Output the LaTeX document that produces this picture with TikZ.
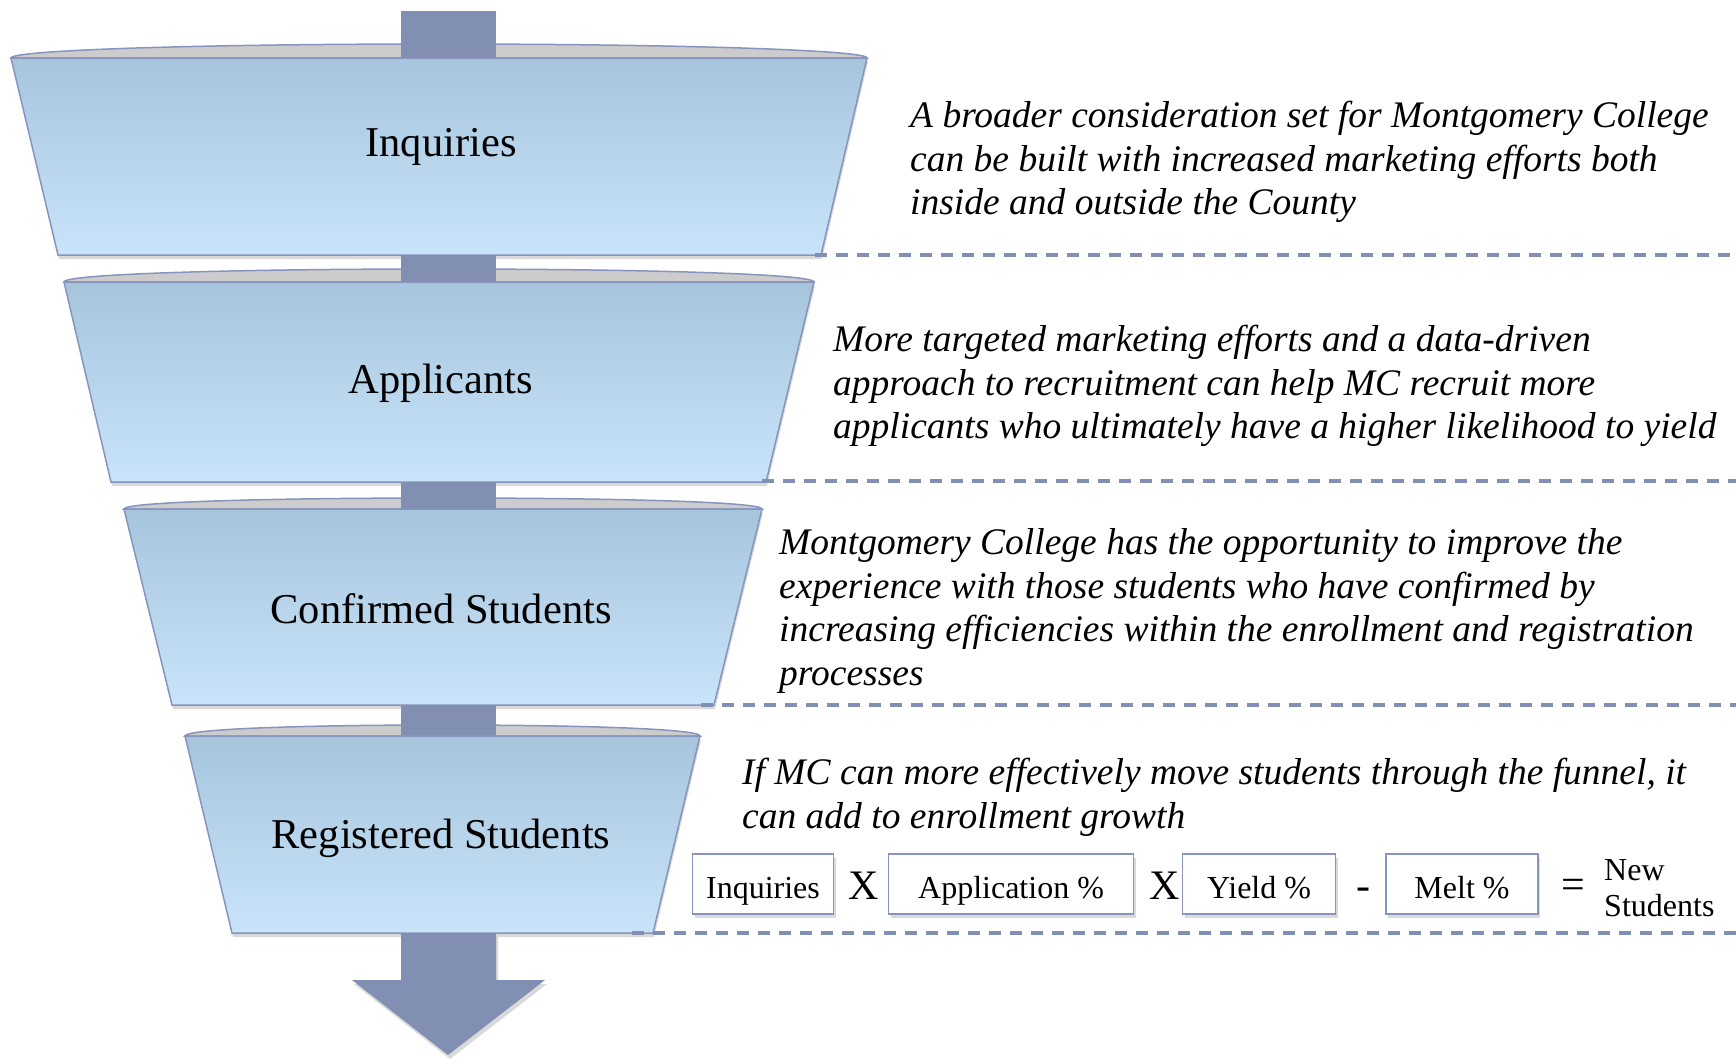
\documentclass[tikz,border=0pt]{standalone}
\usepackage{fontspec}
\setmainfont{Liberation Serif}
\usetikzlibrary{shadows}
\definecolor{stemblue}{RGB}{129,144,178}
\definecolor{rimgray}{RGB}{204,204,204}
\definecolor{edgeblue}{RGB}{135,149,190}
\definecolor{topblue}{RGB}{166,197,221}
\definecolor{botblue}{RGB}{201,228,250}
\tikzset{
  >=latex,
  rim/.style={fill=rimgray,draw=edgeblue,line width=1.5pt},
  stem/.style={fill=stemblue},
  cup/.style={top color=topblue,bottom color=botblue,draw=edgeblue,line width=1.5pt,
    drop shadow={opacity=.3,shadow xshift=1pt,shadow yshift=-4pt}},
  cuplabel/.style={anchor=base,font=\fontsize{42.5}{50}\selectfont},
  note/.style={anchor=west,align=left,inner sep=0pt,font=\fontsize{37.5}{43.7}\selectfont\itshape},
  term/.style={draw=edgeblue,fill=white,line width=1.5pt,minimum height=60pt,
    text height=28pt,text depth=0pt,font=\fontsize{32}{38}\selectfont,
    drop shadow={opacity=.3,shadow xshift=2pt,shadow yshift=-4pt}},
  op/.style={font=\fontsize{42}{42}\selectfont,inner sep=0pt},
  sep/.style={draw=stemblue,line width=4.6pt,dash pattern=on 12pt off 9pt}
}
\begin{document}
\begin{tikzpicture}[x=1pt,y=-1pt]
\useasboundingbox (0,0) rectangle (1736,1061);
% inquiries
\draw[rim] (11,58) .. controls (11,50) and (203,44) .. (439,44) .. controls (675,44) and (867,50) .. (867,58) -- cycle;
\fill[stem] (401,11) rectangle (496,62);
\draw[cup] (11,58) -- (867,58) -- (821,255) -- (58,255) -- cycle;
\node[cuplabel] (inq) at (441,156) {Inquiries};
% applicants
\draw[rim] (64,282) .. controls (64,274) and (233,269) .. (439,269) .. controls (645,269) and (814,274) .. (814,282) -- cycle;
\fill[stem] (401,255) rectangle (496,286);
\draw[cup] (64,282) -- (814,282) -- (766,482) -- (111,482) -- cycle;
\node[cuplabel] (app) at (441,393) {Applicants};
% confirmed students
\draw[rim] (124,509) .. controls (124,502) and (268,498) .. (443,498) .. controls (618,498) and (762,502) .. (762,509) -- cycle;
\fill[stem] (401,482) rectangle (496,513);
\draw[cup] (124,509) -- (762,509) -- (714,705) -- (172,705) -- cycle;
\node[cuplabel] (conf) at (441,623) {Confirmed Students};
% registered students
\draw[rim] (185,736) .. controls (185,729) and (301,725) .. (442,725) .. controls (584,725) and (700,729) .. (700,736) -- cycle;
\fill[stem] (401,705) rectangle (496,740);
\draw[cup] (185,736) -- (700,736) -- (653,933) -- (232,933) -- cycle;
\node[cuplabel] (reg) at (441,848) {Registered Students};
% arrow out of the funnel
\fill[stem,drop shadow={opacity=.3,shadow xshift=2pt,shadow yshift=-4pt}]
  (401,933) -- (496,933) -- (496,980) -- (545,980) -- (448,1055) -- (352,980) -- (401,980) -- cycle;

% notes
\node[note] (n1) at (910,162) {A broader consideration set for Montgomery College\\
  can be built with increased marketing efforts both\\ inside and outside the County};
\node[note] (n2) at (833,386) {More targeted marketing efforts and a data-driven\\
  approach to recruitment can help MC recruit more\\
  applicants who ultimately have a higher likelihood to yield};
\node[note] (n3) at (779,611) {Montgomery College has the opportunity to improve the\\
  experience with those students who have confirmed by\\
  increasing efficiencies within the enrollment and registration\\ processes};
\node[note] (n4) at (742,797) {If MC can more effectively move students through the funnel, it\\
  can add to enrollment growth};

% formula
\node[term,minimum width=141pt] (t1) at (763,884) {Inquiries};
\node[op] (x1) at (864,886) {X};
\node[term,minimum width=245pt] (t2) at (1011,884) {Application \%};
\node[op] (x2) at (1165,886) {X};
\node[term,minimum width=153pt] (t3) at (1259,884) {Yield \%};
\node[op] (minus) at (1363,894) {-};
\node[term,minimum width=152pt] (t4) at (1462,884) {Melt \%};
\node[op] (eq) at (1573,889) {=};
\node[anchor=west,align=left,inner sep=0pt,font=\fontsize{32}{36.5}\selectfont] (newst) at (1604,888) {New\\Students};

% separators
\coordinate (s1) at (815,255); \coordinate (e1) at (1736,255);
\coordinate (s2) at (762,481); \coordinate (e2) at (1736,481);
\coordinate (s3) at (701,705); \coordinate (e3) at (1736,705);
\coordinate (s4) at (632,933); \coordinate (e4) at (1736,933);
\draw[sep] (s1) -- (e1);
\draw[sep] (s2) -- (e2);
\draw[sep] (s3) -- (e3);
\draw[sep] (s4) -- (e4);
\end{tikzpicture}
\end{document}
